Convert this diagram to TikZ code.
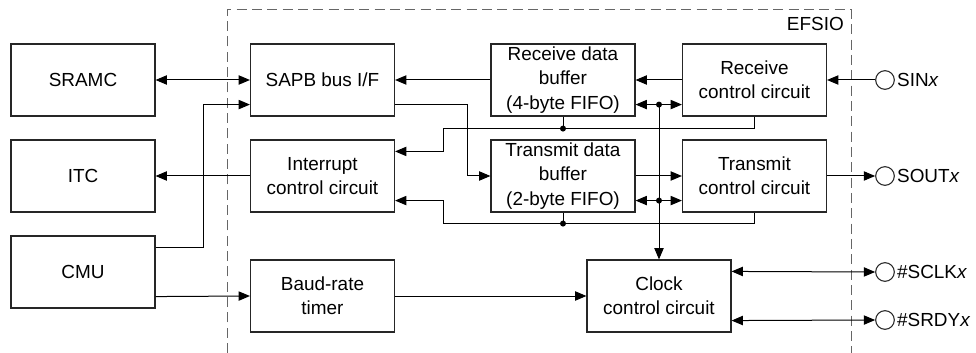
\documentclass[tikz,border=0pt]{standalone}
\usepackage{fontspec}
\setmainfont{Liberation Sans}
\usetikzlibrary{arrows.meta,positioning,calc}
\tikzset{
  sioBlk/.style={draw=black!85, line width=0.85pt, minimum width=108pt, minimum height=54pt,
    inner sep=0pt, align=center},
  sioPin/.style={draw=black!85, line width=0.8pt, circle, minimum size=14pt, inner sep=0pt},
  sioLbl/.style={anchor=west, inner sep=0pt},
  %% Connectors
  sioArr/.style={-{Triangle[length=8.5pt,width=7pt]}, line width=0.75pt},
  sioBi/.style={{Triangle[length=8.5pt,width=7pt]}-{Triangle[length=8.5pt,width=7pt]}, line width=0.75pt},
  sioLine/.style={line width=0.75pt},
  sioDot/.style={circle, fill=black, inner sep=0pt, minimum size=4.5pt},
  %% Module frame
  sioFrame/.style={draw=black!60, dash pattern=on 7.5pt off 4pt, line width=0.75pt},
}

\begin{document}
\begin{tikzpicture}[x=0.75pt, y=-0.75pt, font=\fontsize{14.2}{18.3}\selectfont]
\useasboundingbox (0,0) rectangle (976,353);

%% EFSIO frame
\draw[sioFrame] (227,353) |- (851,10) -- (851,353);
\node[anchor=east, inner sep=0pt] (lEfsio) at (844,24) {EFSIO};

%% Blocks
\node[sioBlk] (sramc)  at ( 83, 80) {SRAMC};
\node[sioBlk] (itc)    at ( 83,176) {ITC};
\node[sioBlk] (cmu)    at ( 83,272) {CMU};
\node[sioBlk] (sapb)   at (322.5, 80) {SAPB bus I/F};
\node[sioBlk] (intr)   at (322.5,176) {Interrupt\\control circuit};
\node[sioBlk] (baud)   at (322.5,296) {Baud-rate\\timer};
\node[sioBlk] (rxbuf)  at (563, 80) {Receive data\\buffer\\(4-byte FIFO)};
\node[sioBlk] (txbuf)  at (563,176) {Transmit data\\buffer\\(2-byte FIFO)};
\node[sioBlk] (rxctl)  at (754.5, 80) {Receive\\control circuit};
\node[sioBlk] (txctl)  at (754.5,176) {Transmit\\control circuit};
\node[sioBlk] (clk)    at (659,296) {Clock\\control circuit};

%% Pins
\node[sioPin] (pSin)  at (885, 80) {};
\node[sioPin] (pSout) at (885,176) {};
\node[sioPin] (pSclk) at (885,272) {};
\node[sioPin] (pSrdy) at (885,320) {};
\node[sioLbl] (tSin)  at ([xshift=1.5pt]pSin.east)  {SIN\textit{x}};
\node[sioLbl] (tSout) at ([xshift=1.5pt]pSout.east) {SOUT\textit{x}};
\node[sioLbl] (tSclk) at ([xshift=1.5pt]pSclk.east) {\#SCLK\textit{x}};
\node[sioLbl] (tSrdy) at ([xshift=1.5pt]pSrdy.east) {\#SRDY\textit{x}};

%% Bus side
\draw[sioBi]  (sramc.east) -- (sapb.west);
\draw[sioArr] ($(cmu.north east)+(0,12)$) -- ++(48,0) |- ($(sapb.south west)+(0,-12)$);
\draw[sioArr] (intr.west) -- (itc.east);
\draw[sioArr] ($(cmu.south east)+(0,-12)$) -- (baud.west);
\draw[sioArr] (baud.east) -- (clk.west);

%% Data path
\draw[sioArr] (rxbuf.west) -- (sapb.east);
\draw[sioArr] ($(sapb.south east)+(0,-12)$) -- ++(72,0) |- (txbuf.west);
\draw[sioArr] (rxctl.west) -- (rxbuf.east);
\draw[sioArr] (txbuf.east) -- (txctl.west);
\draw[sioArr] (pSin.west) -- (rxctl.east);
\draw[sioArr] (txctl.east) -- (pSout.west);

%% Interrupt requests
\draw[sioArr] (rxctl.south) -- ++(0,12) -| ($(intr.north east)+(48,12)$) -- ($(intr.north east)+(0,12)$);
\draw[sioLine] (rxbuf.south) -- ++(0,12) node[sioDot] (dRx) {};
\draw[sioArr] (txctl.south) -- ++(0,11) -| ($(intr.south east)+(48,-12)$) -- ($(intr.south east)+(0,-12)$);
\draw[sioLine] (txbuf.south) -- ++(0,11) node[sioDot] (dTx) {};

%% Clock distribution
\path ($(rxbuf.south east)+(0,-12)$) coordinate (rxA);
\path ($(txbuf.south east)+(0,-12)$) coordinate (txA);
\draw[sioBi] (rxA) -- (rxA -| rxctl.west);
\draw[sioBi] (txA) -- (txA -| txctl.west);
\node[sioDot] (jRx) at (rxA -| clk.north) {};
\node[sioDot] (jTx) at (txA -| clk.north) {};
\draw[sioArr] (jRx.center) -- (clk.north);

%% Clock pins
\draw[sioBi] ($(clk.north east)+(0,12)$) -- (pSclk.west);
\draw[sioBi] ($(clk.south east)+(0,-12)$) -- (pSrdy.west);

\end{tikzpicture}
\end{document}
